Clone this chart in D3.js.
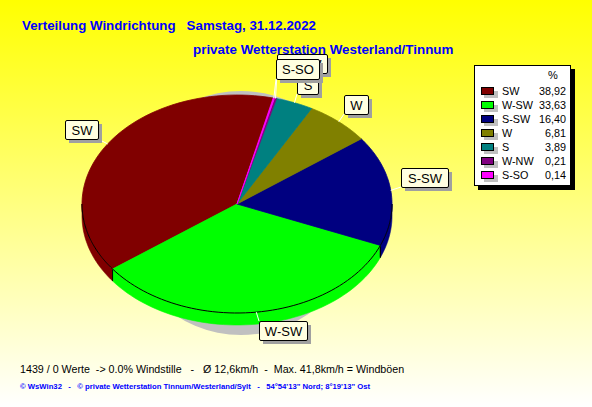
<!DOCTYPE html>
<html><head><meta charset="utf-8">
<script src="https://cdn.jsdelivr.net/npm/d3@7"></script>
<style>html,body{margin:0;padding:0;background:#fff}svg{display:block}text{font-family:"Liberation Sans",Arial,sans-serif}</style>
</head><body><svg id="c" width="592" height="407"></svg>
<script>
const categories=["SW","W-SW","S-SW","W","S","W-NW","S-SO"];
const values=[38.92,33.63,16.40,6.81,3.89,0.21,0.14];
const valueLabels=["38,92","33,63","16,40","6,81","3,89","0,21","0,14"];
const colors=["#800000","#00ff00","#000080","#808000","#008080","#800080","#ff00ff"];
const labelBoxes=[[65,120,33,19],[259,321,48,19],[401,168,47,19],[344,95,24,19],[297,75,21,19],[277,54,50,19],[276,59,43,20]];
const title1="Verteilung Windrichtung   Samstag, 31.12.2022";
const title2="private Wetterstation Westerland/Tinnum";
const footer1="1439 / 0 Werte  -> 0.0% Windstille   -   Ø 12,6km/h  -  Max. 41,8km/h = Windböen";
const footer2="© WsWin32   -   © private Wetterstation Tinnum/Westerland/Sylt   -   54°54'13\" Nord; 8°19'13\" Ost";

const svg=d3.select("#c");
const defs=svg.append("defs");
const g=defs.append("linearGradient").attr("id","bg").attr("x1",0).attr("x2",0).attr("y1",0).attr("y2",1);
g.append("stop").attr("offset",0).attr("stop-color","#ffff00");
g.append("stop").attr("offset",1).attr("stop-color","#ffffff");
svg.append("rect").attr("width",592).attr("height",407).attr("fill","url(#bg)");

svg.append("ellipse").attr("cx",241).attr("cy",213).attr("rx",120).attr("ry",122).attr("fill","#c0c0c0");

const cx=237,cy=204,rx=155,ry=109,depth=12,startDeg=13.5;
const x=d3.scaleLinear().domain([0,1]).range([cx,cx+rx]);
const y=d3.scaleLinear().domain([0,1]).range([cy,cy+ry]);
const start=startDeg*Math.PI/180;
const pie=d3.pie().sort(null).value(d=>d).startAngle(start).endAngle(start-2*Math.PI);
const arcs=pie(values);
const pt=(a,off=0)=>[x(Math.sin(a)),y(-Math.cos(a))+off];
const sample=(a0,a1,off)=>d3.range(0,61).map(i=>pt(a0+(a1-a0)*i/60,off));
const line=d3.line();

// side wall: front half only
const walls=[];
arcs.forEach((d,i)=>{
  const hi=d.startAngle,lo=d.endAngle;
  for(const k of [0,-1,-2]){
    const fa=Math.PI/2+k*2*Math.PI, fb=3*Math.PI/2+k*2*Math.PI;
    const a0=Math.max(lo,fa), a1=Math.min(hi,fb);
    if(a1>a0){
      const top=sample(a0,a1,0), bot=sample(a1,a0,depth);
      svg.append("path").attr("d",line(top.concat(bot))+"Z").attr("fill",colors[i]).attr("stroke",colors[i]).attr("stroke-width",.6);
      walls.push([a0,a1]);
      for(const a of [a0,a1]){
        if(a>fa+1e-6&&a<fb-1e-6) svg.append("path").attr("d",line([pt(a),pt(a,depth)])).attr("stroke","#000").attr("fill","none");
      }
    }
  }
});
// top surface
svg.selectAll("path.slice").data(arcs).join("path").attr("class","slice")
 .attr("d",d=>line([[x(0),y(0)],...sample(d.startAngle,d.endAngle,0)])+"Z")
 .attr("fill",(d,i)=>colors[i]).attr("stroke",(d,i)=>colors[i]).attr("stroke-width",.8).attr("stroke-linejoin","round");
// front rim of the top surface
walls.forEach(([a0,a1])=>svg.append("path").attr("d",line(sample(a0,a1,0))).attr("fill","none").attr("stroke","#000").attr("stroke-width",1));

// leaders + labels
const mid=d=>(d.startAngle+d.endAngle)/2;
arcs.forEach((d,i)=>{
  const b=labelBoxes[i];
  const a=pt(mid(d));
  const tx=Math.max(b[0],Math.min(b[0]+b[2],a[0])), ty=Math.max(b[1],Math.min(b[1]+b[3],a[1]));
  svg.append("path").attr("d",line([a,[tx,ty]])).attr("stroke","#fff").attr("stroke-width",1).attr("fill","none");
});
[5,4,3,2,1,0,6].forEach(i=>{
  const b=labelBoxes[i];
  svg.append("rect").attr("x",b[0]+4).attr("y",b[1]+4).attr("width",b[2]).attr("height",b[3]).attr("fill","#a0a0a0");
  svg.append("rect").attr("x",b[0]+.5).attr("y",b[1]+.5).attr("width",b[2]).attr("height",b[3]).attr("rx",1.5).attr("fill","#ffffe1").attr("stroke","#000");
  svg.append("text").attr("x",b[0]+b[2]/2+.5).attr("y",b[1]+b[3]/2+5).attr("text-anchor","middle").attr("font-size",13).attr("fill","#000").text(categories[i]);
});

// titles
svg.append("text").attr("x",22).attr("y",30).attr("font-size",13.3).attr("font-weight","bold").attr("fill","#0000ff").style("white-space","pre").text(title1);
svg.append("text").attr("x",193).attr("y",54).attr("font-size",13.4).attr("font-weight","bold").attr("fill","#0000ff").text(title2);
svg.append("text").attr("x",20).attr("y",373).attr("font-size",10.7).attr("fill","#000").style("white-space","pre").text(footer1);
svg.append("text").attr("x",20).attr("y",389).attr("font-size",7.7).attr("font-weight","bold").attr("fill","#0000ff").style("white-space","pre").text(footer2);

// legend
svg.append("rect").attr("x",478).attr("y",69).attr("width",97).attr("height",121).attr("fill","#000");
svg.append("rect").attr("x",474.5).attr("y",65.5).attr("width",96).attr("height",120).attr("fill","#fff").attr("stroke","#000");
svg.append("text").attr("x",553).attr("y",79).attr("text-anchor","middle").attr("font-size",11).text("%");
const rowY=d3.scalePoint().domain(categories).range([91,175]);
categories.forEach((c,i)=>{
  const yy=rowY(c);
  svg.append("rect").attr("x",484).attr("y",yy).attr("width",14).attr("height",7).attr("fill","#c0c0c0");
  svg.append("rect").attr("x",481.5).attr("y",yy-3.5).attr("width",12).attr("height",7).attr("fill",colors[i]).attr("stroke","#000");
  svg.append("text").attr("x",502).attr("y",yy+4).attr("font-size",10.8).text(c);
  svg.append("text").attr("x",566).attr("y",yy+4).attr("text-anchor","end").attr("font-size",10.8).text(valueLabels[i]);
});
</script></body></html>
